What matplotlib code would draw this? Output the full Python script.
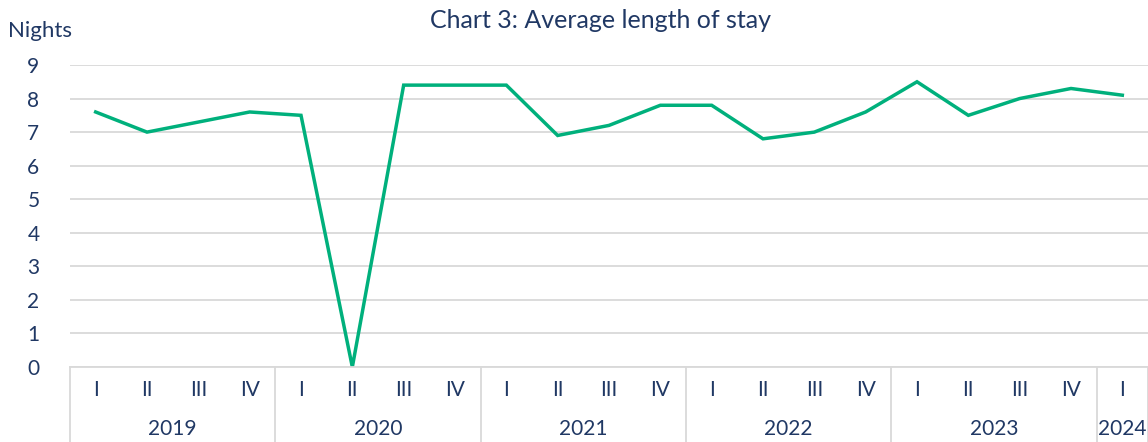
import matplotlib.pyplot as plt
import matplotlib.transforms as mtransforms
from matplotlib.lines import Line2D

quarters = ["I", "II", "III", "IV"] * 5 + ["I"]
years = ["2019", "2020", "2021", "2022", "2023", "2024"]
year_counts = [4, 4, 4, 4, 4, 1]
nights = [7.6, 7.0, 7.3, 7.6, 7.5, 0.0, 8.4, 8.4, 8.4, 6.9, 7.2, 7.8,
          7.8, 6.8, 7.0, 7.6, 8.5, 7.5, 8.0, 8.3, 8.1]

TXT = "#203864"
LINE = "#00B07C"
GRID = "#D9D9D9"

plt.rcParams['font.family'] = ['Lato', 'DejaVu Sans']

fig = plt.figure(figsize=(11.48, 4.42), dpi=100)
ax = fig.add_axes([70 / 1148, 1 - 367 / 442, 1 - 70 / 1148, 302 / 442])

x = list(range(len(nights)))
ax.plot(x, nights, color=LINE, linewidth=2.5, solid_joinstyle='miter')

ax.set_xlim(-0.5, len(nights) - 0.5)
ax.set_ylim(0, 9)
ax.set_yticks(range(0, 10))
ax.tick_params(axis='y', length=0, labelsize=15, labelcolor=TXT, pad=22)
ax.set_xticks([])
ax.grid(axis='y', color=GRID, linewidth=1.3)
ax.set_axisbelow(True)
for side in ['top', 'right', 'left']:
    ax.spines[side].set_visible(False)
ax.spines['bottom'].set_color(GRID)
ax.spines['bottom'].set_linewidth(1.3)

trans = mtransforms.blended_transform_factory(ax.transData, ax.transAxes)
for i, q in enumerate(quarters):
    ax.text(i, -0.075, q, transform=trans, ha='center', va='center',
            fontsize=15, color=TXT)

start = 0
bounds = [-0.5]
for yr, n in zip(years, year_counts):
    mid = start + (n - 1) / 2
    ax.text(mid, -0.205, yr, transform=trans, ha='center', va='center',
            fontsize=15, color=TXT)
    start += n
    bounds.append(start - 0.5)
for b in bounds:
    ax.add_line(Line2D([b, b], [0, -0.26], transform=trans, color=GRID,
                       linewidth=1.3, clip_on=False))

fig.text(601 / 1148, 1 - 20 / 442, "Chart 3: Average length of stay",
         ha='center', va='center', fontsize=18, color=TXT)
fig.text(8 / 1148, 1 - 31 / 442, "Nights", ha='left', va='center',
         fontsize=16, color=TXT)

fig.savefig("out.png", dpi=100)
